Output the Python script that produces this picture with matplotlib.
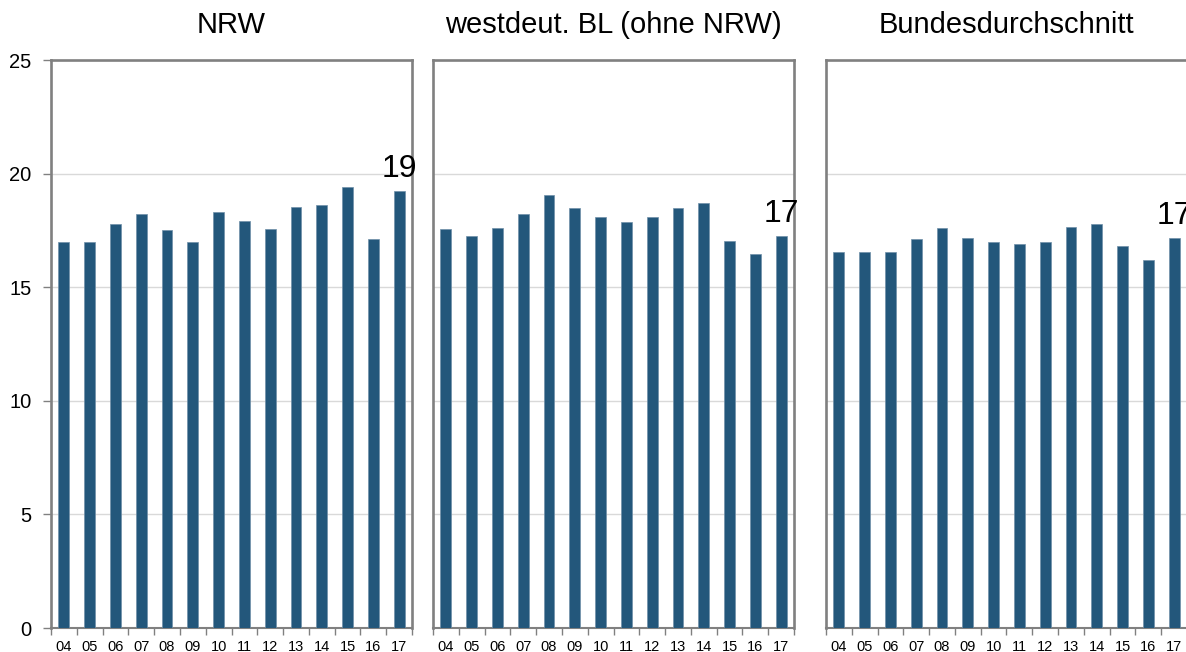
import matplotlib
matplotlib.use('Agg')
from matplotlib import pyplot as plt
import numpy as np

plt.rcParams['font.family'] = ['Liberation Sans', 'DejaVu Sans']

years = ['04', '05', '06', '07', '08', '09', '10', '11', '12', '13', '14', '15', '16', '17']
titles = ['NRW', 'westdeut. BL (ohne NRW)', 'Bundesdurchschnitt']

nrw = [17.0, 17.0, 17.8, 18.2, 17.5, 17.0, 18.3, 17.9, 17.55, 18.55, 18.6, 19.4, 17.1, 19.25]
west = [17.55, 17.25, 17.6, 18.2, 19.05, 18.5, 18.1, 17.85, 18.1, 18.5, 18.7, 17.05, 16.45, 17.25]
bund = [16.55, 16.55, 16.55, 17.1, 17.6, 17.15, 16.97, 16.9, 17.0, 17.67, 17.8, 16.82, 16.2, 17.17]
labels = ['19', '17', '17']

series = [nrw, west, bund]
bar_color = '#23577b'
frame_color = '#808080'

fig = plt.figure(figsize=(11.86, 6.52), dpi=100)
lefts = [51, 433, 826]
x = np.arange(len(years))

for i, (vals, title, lab) in enumerate(zip(series, titles, labels)):
    ax = fig.add_axes([lefts[i] / 1186, 24 / 652, 361 / 1186, 568 / 652])
    ax.bar(x, vals, width=0.42, color=bar_color, edgecolor='#6f8fa8', linewidth=0.5, zorder=3)
    ax.set_xlim(-0.5, len(years) - 0.5)
    ax.set_ylim(0, 25)
    ax.set_yticks([0, 5, 10, 15, 20, 25])
    ax.grid(axis='y', color='#d9d9d9', linewidth=1, zorder=0)
    ax.set_axisbelow(True)
    for s in ax.spines.values():
        s.set_color(frame_color)
        s.set_linewidth(1.9)
    ax.spines['bottom'].set_linewidth(1.5)

    ax.set_xticks(x)
    ax.set_xticklabels(years, fontsize=10.5)
    ax.set_xticks(np.arange(-0.5, len(years), 1), minor=True)
    ax.tick_params(axis='x', which='major', length=0, pad=8.5)
    ax.tick_params(axis='x', which='minor', length=5, color=frame_color, width=1)

    if i == 0:
        ax.tick_params(axis='y', length=6, color=frame_color, width=1, labelsize=14.5, pad=8)
    else:
        ax.tick_params(axis='y', left=False, labelleft=False)

    ax.set_title(title, fontsize=21, pad=19.5)
    ax.annotate(lab, (x[-1], vals[-1]), xytext=(0, 10), textcoords='offset points',
                ha='center', va='baseline', fontsize=23, annotation_clip=False)

plt.savefig('out.png', dpi=100)
